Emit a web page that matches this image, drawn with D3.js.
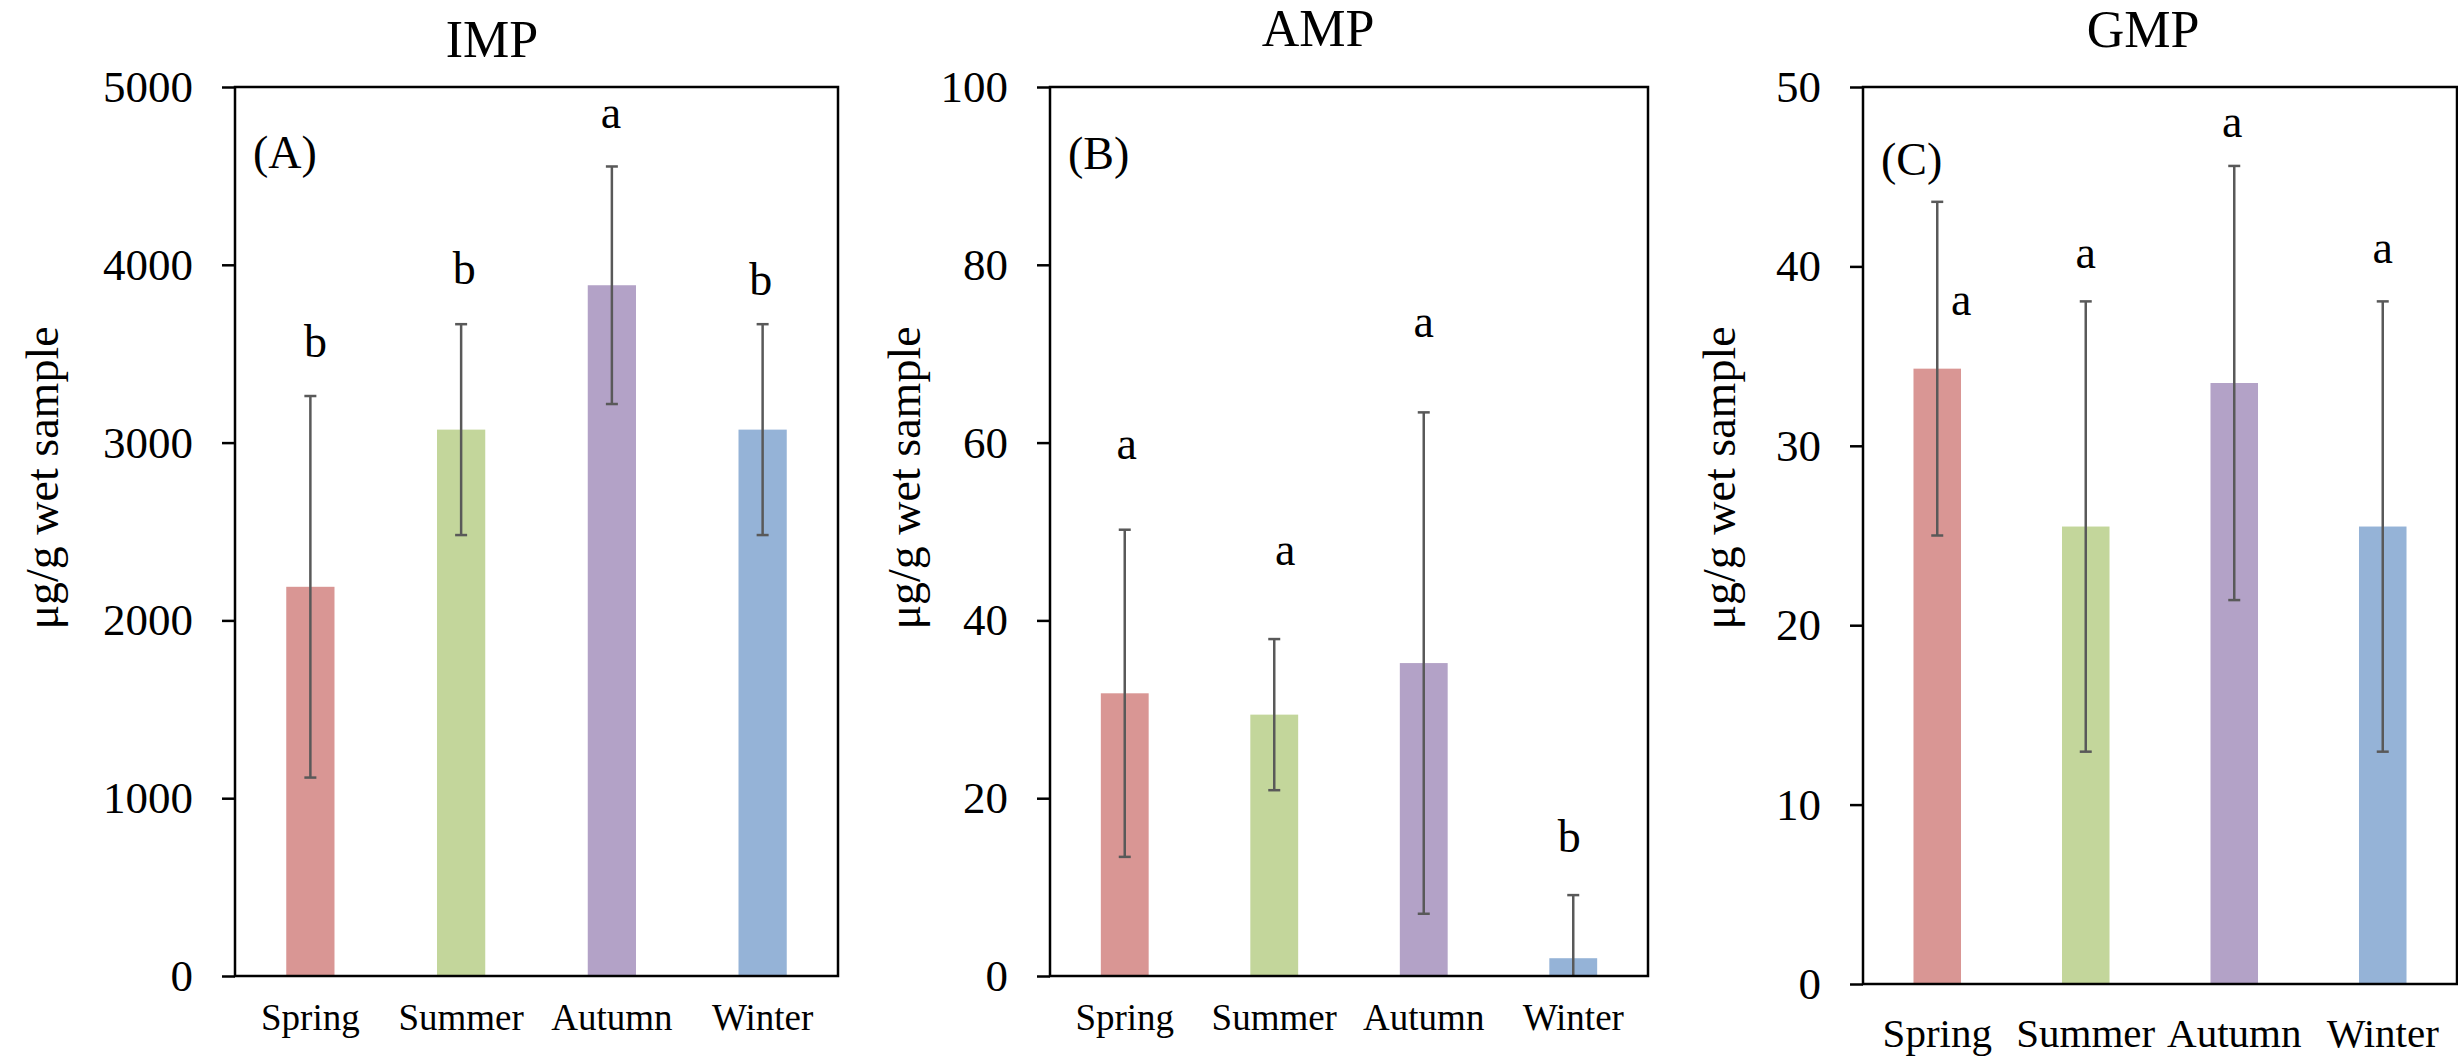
<!DOCTYPE html>
<html>
<head>
<meta charset="utf-8">
<script src="https://cdn.jsdelivr.net/npm/d3@7"></script>
<style>
  body { margin: 0; background: #fff; }
  svg text { font-family: "Liberation Serif", "Times New Roman", serif; fill: #000; }
</style>
</head>
<body>
<div id="chart"></div>
<script>
const seasons = ['Spring', 'Summer', 'Autumn', 'Winter'];
const colors = ['#d99694', '#c3d69b', '#b3a2c7', '#95b3d7'];

// IMP
const impMean = [2189, 3073, 3885, 3073];
const impSd = [1073, 593, 668, 593];
const impLetters = ['b', 'b', 'a', 'b'];
const impLetterAt = [3481, 3892, 4769, 3830];
const impTicks = [0, 1000, 2000, 3000, 4000, 5000];

// AMP
const ampMean = [31.8, 29.4, 35.2, 2.0];
const ampSd = [18.4, 8.5, 28.2, 7.1];
const ampLetters = ['a', 'a', 'a', 'b'];
const ampLetterAt = [58.2, 46.2, 71.9, 13.9];
const ampTicks = [0, 20, 40, 60, 80, 100];

// GMP
const gmpMean = [34.3, 25.5, 33.5, 25.5];
const gmpSd = [9.3, 12.55, 12.1, 12.55];
const gmpLetters = ['a', 'a', 'a', 'a'];
const gmpLetterAt = [37.3, 39.9, 47.2, 40.2];
const gmpTicks = [0, 10, 20, 30, 40, 50];

const width = 2458;
const height = 1057;
const serif = '"Liberation Serif", "Times New Roman", serif';

const svg = d3.select('#chart')
    .append('svg')
    .attr('width', width)
    .attr('height', height)
    .attr('viewBox', [0, 0, width, height])
    .attr('font-family', serif);

const panels = [
    { title: 'IMP', tag: '(A)', mean: impMean, sd: impSd, letters: impLetters, letterAt: impLetterAt, ticks: impTicks,
      left: 235, right: 838, top: 87, bottom: 976, titleX: 492, titleY: 57, tagY: 168, ylabX: 44, catSize: 37, catY: 1030,
      letterDx: [5, 3, -1, -2] },
    { title: 'AMP', tag: '(B)', mean: ampMean, sd: ampSd, letters: ampLetters, letterAt: ampLetterAt, ticks: ampTicks,
      left: 1050, right: 1648, top: 87, bottom: 976, titleX: 1318, titleY: 46, tagY: 169, ylabX: 906, catSize: 37, catY: 1030,
      letterDx: [2, 11, 0, -4] },
    { title: 'GMP', tag: '(C)', mean: gmpMean, sd: gmpSd, letters: gmpLetters, letterAt: gmpLetterAt, ticks: gmpTicks,
      left: 1863, right: 2457, top: 87, bottom: 984, titleX: 2143, titleY: 47, tagY: 175, ylabX: 1721, catSize: 41, catY: 1047,
      letterDx: [24, 0, -2, 0] }
];

panels.forEach(p => {
    const g = svg.append('g');

    const x = d3.scaleBand()
        .domain(seasons)
        .range([p.left, p.right])
        .paddingInner(0.68)
        .paddingOuter(0.34);

    const y = d3.scaleLinear()
        .domain([0, d3.max(p.ticks)])
        .range([p.bottom, p.top]);

    // bars
    g.append('g')
        .selectAll('rect')
        .data(seasons)
        .join('rect')
        .attr('x', d => x(d))
        .attr('y', (d, i) => y(p.mean[i]))
        .attr('width', x.bandwidth())
        .attr('height', (d, i) => y(0) - y(p.mean[i]))
        .attr('fill', (d, i) => colors[i]);

    // error bars
    const eb = g.append('g')
        .attr('stroke', '#595959')
        .attr('stroke-width', 2.5)
        .selectAll('g')
        .data(seasons)
        .join('g');
    const cx = d => x(d) + x.bandwidth() / 2;
    const hi = i => y(p.mean[i] + p.sd[i]);
    const lo = i => y(Math.max(0, p.mean[i] - p.sd[i]));
    eb.append('line')
        .attr('x1', cx).attr('x2', cx)
        .attr('y1', (d, i) => hi(i)).attr('y2', (d, i) => lo(i));
    eb.append('line')
        .attr('x1', d => cx(d) - 6).attr('x2', d => cx(d) + 6)
        .attr('y1', (d, i) => hi(i)).attr('y2', (d, i) => hi(i));
    eb.filter((d, i) => p.mean[i] - p.sd[i] > 0)
        .append('line')
        .attr('x1', d => cx(d) - 6).attr('x2', d => cx(d) + 6)
        .attr('y1', (d, i) => lo(i)).attr('y2', (d, i) => lo(i));

    // significance letters
    g.append('g')
        .selectAll('text')
        .data(seasons)
        .join('text')
        .attr('x', (d, i) => cx(d) + p.letterDx[i])
        .attr('y', (d, i) => y(p.letterAt[i]))
        .attr('text-anchor', 'middle')
        .attr('font-family', serif)
        .attr('font-size', '46px')
        .text((d, i) => p.letters[i]);

    // y axis
    g.append('g')
        .attr('transform', `translate(${p.left},0)`)
        .call(d3.axisLeft(y).tickValues(p.ticks).tickFormat(d3.format('d')).tickSize(13).tickPadding(29))
        .attr('font-family', serif)
        .call(a => a.select('.domain').remove())
        .call(a => a.selectAll('line').attr('stroke', '#000').attr('stroke-width', 2.5))
        .call(a => a.selectAll('text').attr('font-size', '45px'));

    // x axis labels
    g.append('g')
        .attr('transform', `translate(0,${p.bottom})`)
        .call(d3.axisBottom(x).tickSize(0).tickPadding(0))
        .attr('font-family', serif)
        .call(a => a.select('.domain').remove())
        .call(a => a.selectAll('text')
            .attr('dy', null)
            .attr('y', p.catY - p.bottom)
            .attr('font-size', p.catSize + 'px'));

    // frame
    g.append('rect')
        .attr('x', p.left)
        .attr('y', p.top)
        .attr('width', p.right - p.left)
        .attr('height', p.bottom - p.top)
        .attr('fill', 'none')
        .attr('stroke', '#000')
        .attr('stroke-width', 2.5);

    // title
    g.append('text')
        .attr('x', p.titleX)
        .attr('y', p.titleY)
        .attr('text-anchor', 'middle')
        .attr('font-family', serif)
        .attr('font-size', '52px')
        .text(p.title);

    // panel tag
    g.append('text')
        .attr('x', p.left + 18)
        .attr('y', p.tagY)
        .attr('font-family', serif)
        .attr('font-size', '46px')
        .text(p.tag);

    // y label
    g.append('text')
        .attr('transform', `translate(${p.ylabX},478) rotate(-90)`)
        .attr('text-anchor', 'middle')
        .attr('dy', '0.3em')
        .attr('font-family', serif)
        .attr('font-size', '46px')
        .text('μg/g wet sample');
});
</script>
</body>
</html>
